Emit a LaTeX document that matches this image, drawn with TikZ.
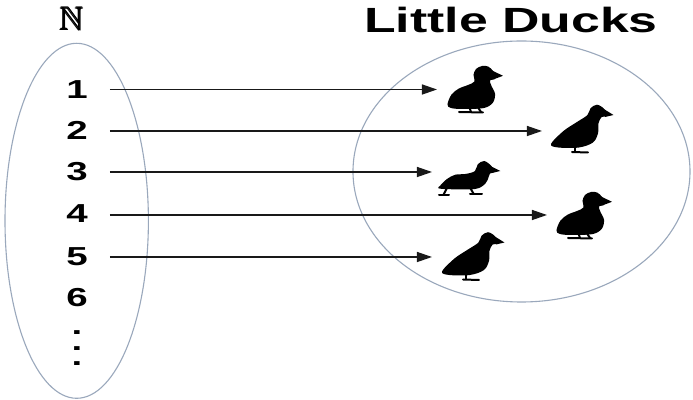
\documentclass[tikz,border=0pt]{standalone}
\usepackage{fontspec}
\usepackage{amsmath,amssymb}
\setmainfont{Liberation Sans}
\newfontfamily\widefont[FakeStretch=1.48]{Liberation Sans}
\usetikzlibrary{arrows.meta}

\definecolor{rim}{HTML}{9AA8BC}

\tikzset{
  setrim/.style={draw=rim, line width=0.55pt},
  digit/.style={font=\widefont\fontsize{13}{15}\bfseries, inner sep=0pt},
  title/.style={font=\widefont\fontsize{17.5}{20}\bfseries, inner sep=0pt},
  maparrow/.style={draw=black!90, line width=0.65pt,
    -{Triangle[length=7.5pt,width=5pt]}},
  duckleg/.style={draw=black, line width=1pt, line cap=round},
  % compact upright duckling
  duckA/.pic={
    \fill[black] plot[smooth cycle, tension=0.55] coordinates {
      (47,12.7) (42,14.5) (43.5,20) (47,27.7) (45,36.5) (36,42)
      (15,43) (3,42) (-0.5,38.5) (3.5,28.5) (11,22.5) (20,19)
      (26.5,15.5) (25.5,9) (28,3) (34,0) (40,0.5) (45,5)};
    \fill[black] (44,4.5) -- (55,9.8) -- (46,13.2) -- cycle;
    \draw[duckleg] (21.3,41) -- (23,46) (29.7,41) -- (33,46);
    \draw[duckleg] (11,46) -- (35,46.5);
  },
  % slender duckling leaning forward
  duckB/.pic={
    \fill[black] plot[smooth cycle, tension=0.55] coordinates {
      (55.7,11) (50.7,12) (47.5,18.3) (47,28.3) (42,37.5)
      (28,42.5) (7.3,42.5) (0,39) (12.5,26) (26,17)
      (36.5,10) (39.5,3.3) (46,-0.3) (53,3.8)};
    \fill[black] (52,3.5) -- (62.5,10) -- (54,12) -- cycle;
    \draw[duckleg] (24,40) -- (24,46.7);
    \draw[duckleg] (21,47) -- (37,47.5);
  },
  % walking duckling
  duckC/.pic={
    \fill[black] plot[smooth cycle, tension=0.55] coordinates {
      (55.7,11.3) (52.3,12.3) (50.7,15.7) (47.5,22.5) (37.3,28)
      (10.7,28.2) (0.5,27.3) (2,24.8) (9,18) (17.3,13.7) (27.3,13)
      (36.8,10.2) (39.8,3.3) (46.3,0) (53.5,5.2)};
    \fill[black] (52,4.8) -- (62.3,10) -- (54,12) -- cycle;
    \draw[duckleg] (9,27) -- (5.7,33.3) (32.3,27) -- (35.7,33);
    \draw[duckleg] (1,34) -- (11,34) (32,33.5) -- (44,33.5);
  }
}

\begin{document}
\begin{tikzpicture}[x=0.5pt, y=-0.5pt]
  \useasboundingbox[fill=white] (0,0) rectangle (693,400);

  % the two sets
  \draw[setrim] (76.7,220.8) ellipse [x radius=35.85pt, y radius=88.75pt];
  \draw[setrim] (521.5,171.5) ellipse [x radius=84.25pt, y radius=65.25pt];

  % set labels
  \node[inner sep=0pt] (nat) at (72,19)
    {\scalebox{1.65}{$\pmb{\mathbb{N}}$}};
  \node[title, anchor=base] (ducks) at (511,33) {Little Ducks};

  % natural numbers
  \node[digit] (n1) at (77,89.5) {1};
  \node[digit] (n2) at (77,130.5) {2};
  \node[digit] (n3) at (77,172) {3};
  \node[digit] (n4) at (77,214) {4};
  \node[digit] (n5) at (77,257) {5};
  \node[digit] (n6) at (77,298) {6};
  \node[font=\widefont\fontsize{13}{7.75}\bfseries, inner sep=0pt, align=center]
    (more) at (77,348.5) {.\\.\\.};

  % ducklings
  \pic at (448,66) {duckA};
  \pic at (551,105) {duckB};
  \pic at (438,161) {duckC};
  \pic at (557,192) {duckA};
  \pic at (442,232.5) {duckB};

  % arrow ends
  \coordinate (s1) at (110,89.5);  \coordinate (t1) at (437,89.5);
  \coordinate (s2) at (110,131);   \coordinate (t2) at (542,131);
  \coordinate (s3) at (110,172);   \coordinate (t3) at (432,172);
  \coordinate (s4) at (110,215);   \coordinate (t4) at (547,215);
  \coordinate (s5) at (110,257);   \coordinate (t5) at (432,257);

  \foreach \i in {1,...,5} {
    \draw[maparrow] (s\i) -- (t\i);
  }
\end{tikzpicture}
\end{document}
